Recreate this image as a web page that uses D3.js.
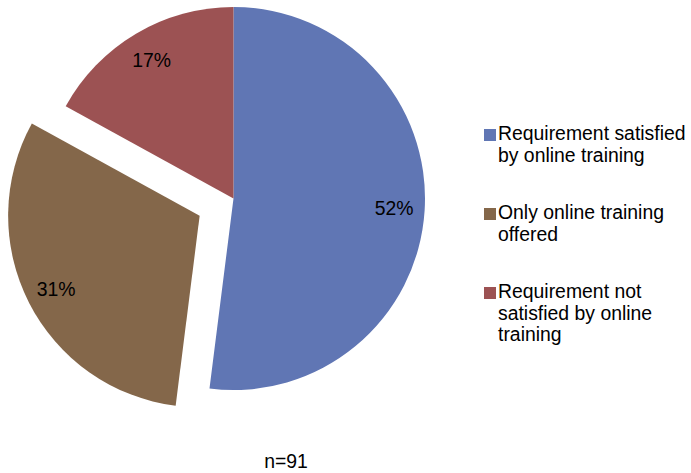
<!DOCTYPE html>
<html>
<head>
<meta charset="utf-8">
<script src="https://d3js.org/d3.v7.min.js"></script>
<style>
  body { margin: 0; background: #fff; }
  text { font-family: "Liberation Sans", Arial, sans-serif; font-size: 19.4px; fill: #000; }
</style>
</head>
<body>
<div id="chart"></div>
<script>
// data
var categories = [
  "Requirement satisfied by online training",
  "Only online training offered",
  "Requirement not satisfied by online training"
];
var values = [52, 31, 17];
var colors = ["#6076b4", "#84674a", "#9c5253"];
var exploded = [false, true, false];
var legendLines = [
  ["Requirement satisfied", "by online training"],
  ["Only online training", "offered"],
  ["Requirement not", "satisfied by online", "training"]
];
var note = "n=91";

var width = 691, height = 473;
var cx = 233.5, cy = 198.5, radius = 191.5, explode = 38;

var svg = d3.select("#chart").append("svg")
    .attr("width", width)
    .attr("height", height);

var data = categories.map(function(c, i) {
  return { name: c, value: values[i], color: colors[i], exploded: exploded[i] };
});

var pie = d3.pie()
    .sort(null)
    .value(function(d) { return d.value; });

var arc = d3.arc().innerRadius(0).outerRadius(radius);
var labelArc = d3.arc().innerRadius(161).outerRadius(161);

var g = svg.append("g")
    .attr("transform", "translate(" + cx + "," + cy + ")");

var slices = g.selectAll(".slice")
    .data(pie(data))
  .enter().append("g")
    .attr("class", "slice")
    .attr("transform", function(d) {
      if (!d.data.exploded) return null;
      var a = (d.startAngle + d.endAngle) / 2;
      return "translate(" + (Math.sin(a) * explode) + "," + (-Math.cos(a) * explode) + ")";
    });

slices.append("path")
    .attr("d", arc)
    .attr("fill", function(d) { return d.data.color; });

slices.append("text")
    .attr("transform", function(d) { return "translate(" + labelArc.centroid(d) + ")"; })
    .attr("dy", "0.35em")
    .style("text-anchor", "middle")
    .text(function(d) { return d.data.value + "%"; });

// legend
var legend = svg.append("g")
    .attr("transform", "translate(484,129)");

var item = legend.selectAll(".item")
    .data(data)
  .enter().append("g")
    .attr("class", "item")
    .attr("transform", function(d, i) { return "translate(0," + (i * 79) + ")"; });

item.append("rect")
    .attr("width", 12)
    .attr("height", 12)
    .attr("fill", function(d) { return d.color; });

item.append("text")
    .attr("x", 14)
    .attr("y", 11)
    .each(function(d, i) {
      var t = d3.select(this);
      legendLines[i].forEach(function(line, j) {
        t.append("tspan")
          .attr("x", 14)
          .attr("dy", j === 0 ? 0 : 21.5)
          .text(line);
      });
    });

svg.append("text")
    .attr("x", 286)
    .attr("y", 468)
    .style("text-anchor", "middle")
    .text(note);
</script>
</body>
</html>
